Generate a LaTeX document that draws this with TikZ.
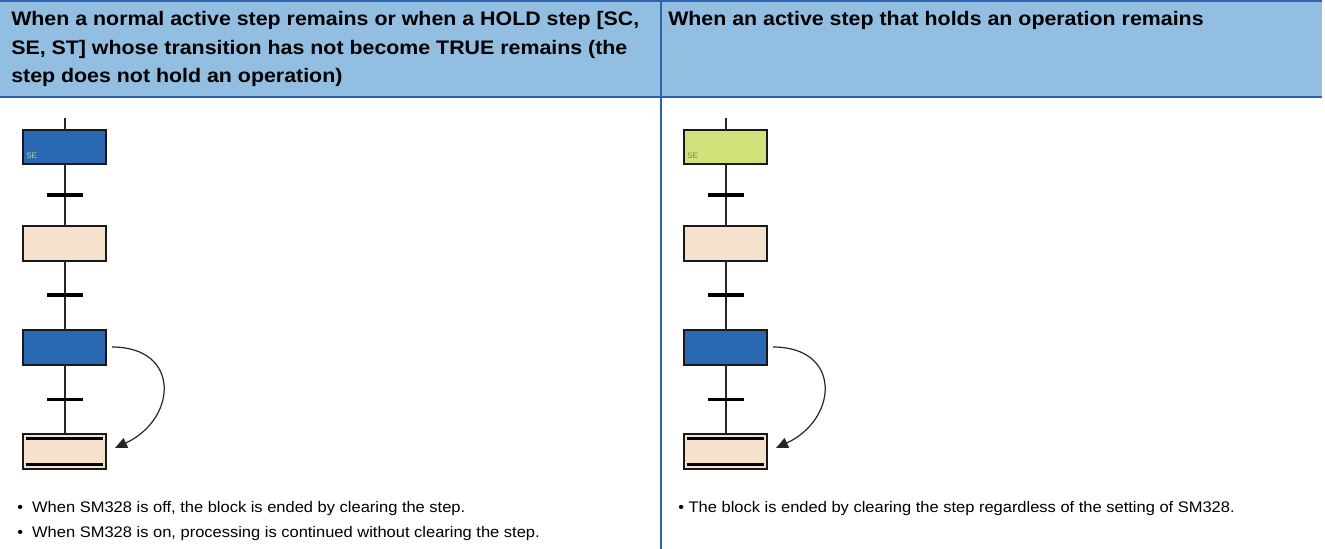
\documentclass[tikz,border=0pt]{standalone}
\usepackage{fontspec}
\setmainfont{Liberation Sans}
\newfontfamily\hdrfont[FakeStretch=1.09]{Liberation Sans}
\newfontfamily\notefont[FakeStretch=1.075]{Liberation Sans}
\usetikzlibrary{arrows.meta}
\definecolor{hdrfill}{HTML}{92BEE2}
\definecolor{rule}{HTML}{2F62AE}
\definecolor{activeblue}{HTML}{2A68B3}
\definecolor{beige}{HTML}{F5E1CC}
\definecolor{lime}{HTML}{D3E17A}
\definecolor{selabelA}{HTML}{C9D46B}
\definecolor{selabelB}{HTML}{7A8060}
\tikzset{
  stepbox/.style={draw=black!90, line width=1.5pt, minimum width=62.5pt, minimum height=26pt, inner sep=0pt, outer sep=0pt},
  activestep/.style={stepbox, fill=activeblue},
  idlestep/.style={stepbox, fill=beige},
  holdstep/.style={stepbox, fill=lime},
  transbar/.style={fill=black, draw=none, minimum width=27pt, minimum height=2.5pt, inner sep=0pt, outer sep=0pt},
  wire/.style={line width=1.5pt, draw=black!85},
  hdrtext/.style={anchor=base west, inner sep=0pt, font=\hdrfont\fontsize{14.7pt}{17pt}\selectfont\bfseries},
  bodytext/.style={anchor=base west, inner sep=0pt, font=\notefont\fontsize{11.5pt}{14pt}\selectfont},
  selabel/.style={anchor=base west, inner sep=0pt, font=\fontsize{6pt}{7pt}\selectfont},
  jump/.style={line width=0.9pt, draw=black!85, -{Triangle[length=9pt,width=8pt]}},
  frame/.style={draw=rule, line width=1.6pt}
}
\begin{document}
\begin{tikzpicture}[x=0.75pt,y=-0.75pt]
\useasboundingbox (0,0) rectangle (1325,549);
% header
\fill[hdrfill] (0,0) rectangle (1322,97);
\draw[frame] (0,1) -- (1322,1);
\draw[frame] (0,97) -- (1322,97);
\draw[frame] (661,0) -- (661,549);
\node[hdrtext] (h1a) at (11,25.7) {When a normal active step remains or when a HOLD step [SC,};
\node[hdrtext] (h1b) at (11,54.2) {SE, ST] whose transition has not become TRUE remains (the};
\node[hdrtext] (h1c) at (11,82.7) {step does not hold an operation)};
\node[hdrtext] (h2) at (668,25.7) {When an active step that holds an operation remains};
% left chart
\coordinate (ta) at (64.5,118);
\node[activestep] (a1) at (64.5,147) {};
\node[idlestep] (a2) at (64.5,243.5) {};
\node[activestep] (a3) at (64.5,347.5) {};
\node[idlestep] (a4) at (64.5,451.5) {};
\draw[wire] (ta) -- (a1.north);
\draw[wire] (a1) -- (a2);
\draw[wire] (a2) -- (a3);
\draw[wire] (a3) -- (a4);
\node[transbar] (ba1) at (64.5,195) {};
\node[transbar] (ba2) at (64.5,295) {};
\node[transbar] (ba3) at (64.5,399.5) {};
\draw[line width=2.5pt] ([xshift=2.5pt,yshift=-3.2pt]a4.north west) -- ([xshift=-2.5pt,yshift=-3.2pt]a4.north east);
\draw[line width=2.5pt] ([xshift=2.5pt,yshift=3.2pt]a4.south west) -- ([xshift=-2.5pt,yshift=3.2pt]a4.south east);
\node[selabel, text=selabelA] (sa) at (26,158.3) {SE};
\coordinate (ja) at (112,347);
\coordinate (ea) at (115,448);
\draw[jump] (ja) .. controls (181,347) and (177.5,419) .. (ea);
% right chart
\coordinate (tb) at (725.5,118);
\node[holdstep] (b1) at (725.5,147) {};
\node[idlestep] (b2) at (725.5,243.5) {};
\node[activestep] (b3) at (725.5,347.5) {};
\node[idlestep] (b4) at (725.5,451.5) {};
\draw[wire] (tb) -- (b1.north);
\draw[wire] (b1) -- (b2);
\draw[wire] (b2) -- (b3);
\draw[wire] (b3) -- (b4);
\node[transbar] (bb1) at (725.5,195) {};
\node[transbar] (bb2) at (725.5,295) {};
\node[transbar] (bb3) at (725.5,399.5) {};
\draw[line width=2.5pt] ([xshift=2.5pt,yshift=-3.2pt]b4.north west) -- ([xshift=-2.5pt,yshift=-3.2pt]b4.north east);
\draw[line width=2.5pt] ([xshift=2.5pt,yshift=3.2pt]b4.south west) -- ([xshift=-2.5pt,yshift=3.2pt]b4.south east);
\node[selabel, text=selabelB] (sb) at (687,158.3) {SE};
\coordinate (jb) at (773,347);
\coordinate (eb) at (776,448);
\draw[jump] (jb) .. controls (842,347) and (838.5,419) .. (eb);
% notes
\node[bodytext] (n1a) at (17,512) {\textbullet\ \ When SM328 is off, the block is ended by clearing the step.};
\node[bodytext] (n1b) at (17,537) {\textbullet\ \ When SM328 is on, processing is continued without clearing the step.};
\node[bodytext] (n2) at (678,512) {\textbullet\ The block is ended by clearing the step regardless of the setting of SM328.};
\end{tikzpicture}
\end{document}
